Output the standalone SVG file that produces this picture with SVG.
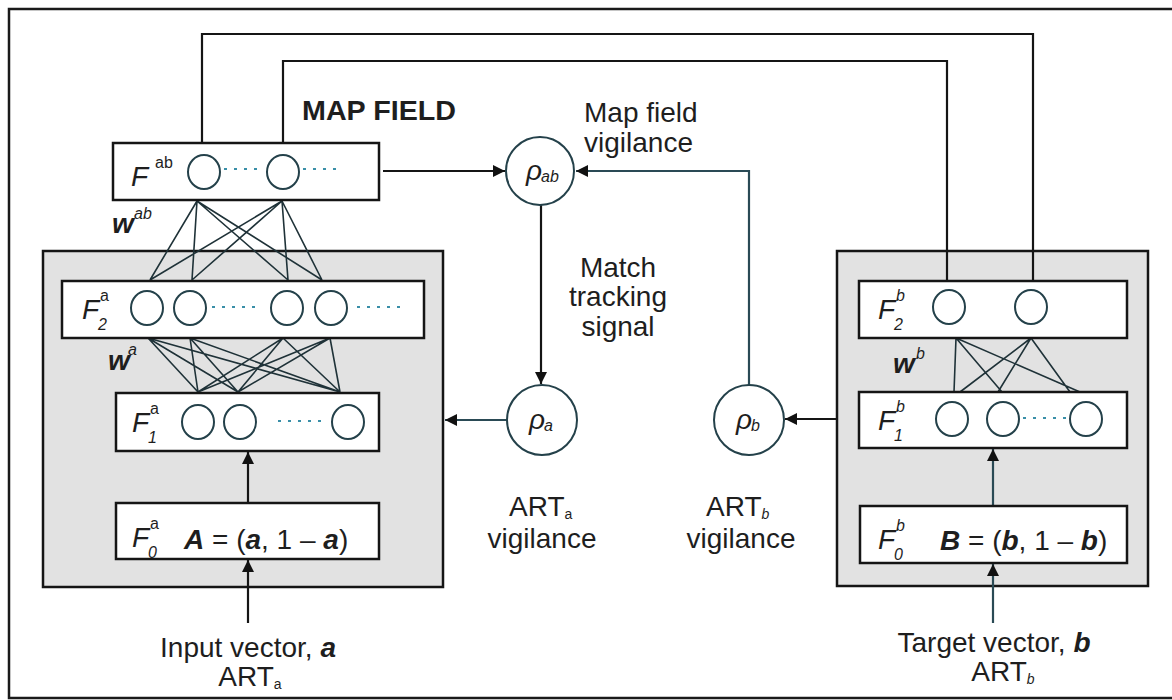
<svg xmlns="http://www.w3.org/2000/svg" width="1172" height="700" viewBox="0 0 1172 700">
<style>
.t{font-family:"Liberation Sans",Arial,sans-serif;font-size:28px;fill:#1e1e1e}
.i{font-style:italic}
.b{font-weight:bold}
.s{font-size:16px}
.ss{font-size:14px}
.box{fill:#fff;stroke:#151515;stroke-width:2.5}
.gray{fill:#e2e2e2;stroke:#151515;stroke-width:2.5}
.nd{fill:none;stroke:#24414a;stroke-width:2}
.dot{fill:none;stroke:#3a8fa8;stroke-width:2;stroke-dasharray:3 7}
.w{fill:none;stroke:#1f3238;stroke-width:1.6}
.c{fill:none;stroke:#151515;stroke-width:2.2}
.cv{fill:none;stroke:#2a4a55;stroke-width:2.2}
</style>
<defs>
<marker id="ah" viewBox="0 0 10 10" refX="10" refY="5" markerWidth="15" markerHeight="12" markerUnits="userSpaceOnUse" orient="auto">
<path d="M0,0 L10,5 L0,10 z" fill="#111"/>
</marker>
</defs>
<rect width="1172" height="700" fill="#fff"/>
<g id="frame"><path d="M1172 9 H9 V698 H1172" fill="none" stroke="#1a1a1a" stroke-width="2.5"/></g>

<g id="artA"><rect class="gray" x="43" y="251" width="400" height="336"/></g>
<g id="artB"><rect class="gray" x="837" y="251" width="311" height="335"/></g>

<g id="connectors">
<path class="c" d="M202 143 V34 H1033 V281"/>
<path class="c" d="M283 143 V61 H947 V281"/>
<path class="c" d="M383 171 H505" marker-end="url(#ah)"/>
<path class="cv" d="M749 386 V171 H576" marker-end="url(#ah)"/>
<path class="c" d="M541 205 V384" marker-end="url(#ah)"/>
<path class="cv" d="M507 420 H445" marker-end="url(#ah)"/>
<path class="c" d="M837 419 H785" marker-end="url(#ah)"/>
<path class="c" d="M248 503 V452" marker-end="url(#ah)"/>
<path class="c" d="M248 623 V560" marker-end="url(#ah)"/>
<path class="cv" d="M993 506 V449" marker-end="url(#ah)"/>
<path class="cv" d="M993 623 V564" marker-end="url(#ah)"/>
<g id="wab">
<path class="w" d="M197 201 L150 280 M197 201 L192 280 M197 201 L288 280 M197 201 L322 280 M282 201 L150 280 M282 201 L192 280 M282 201 L288 280 M282 201 L322 280"/>
</g>
<g id="wa">
<path class="w" d="M148 338 L198 392 M148 338 L238 392 M148 338 L340 392 M190 338 L198 392 M190 338 L238 392 M190 338 L340 392 M283 338 L198 392 M283 338 L238 392 M283 338 L340 392 M330 338 L198 392 M330 338 L238 392 M330 338 L340 392"/>
</g>
<g id="wb">
<path class="w" d="M956 338 L954 392 M956 338 L1002 392 M956 338 L1080 392 M1031 338 L960 392 M1031 338 L998 392 M1031 338 L1070 392"/>
</g>
</g>

<g id="Fab">
<rect class="box" x="113" y="143" width="266" height="57"/>
<ellipse class="nd" cx="204" cy="172" rx="16" ry="17"/>
<ellipse class="nd" cx="283" cy="172" rx="16" ry="17"/>
<path class="dot" d="M224 169 H264 M303 169 H343"/>
<text class="t i" x="131" y="186" font-size="30">F</text>
<text class="t s" x="155" y="168">ab</text>
</g>

<g id="F2a">
<rect class="box" x="62" y="281" width="362" height="57"/>
<ellipse class="nd" cx="147" cy="308" rx="16" ry="17"/>
<ellipse class="nd" cx="190" cy="308" rx="16" ry="17"/>
<ellipse class="nd" cx="287" cy="308" rx="16" ry="17"/>
<ellipse class="nd" cx="331" cy="308" rx="16" ry="17"/>
<path class="dot" d="M212 307 H262 M357 307 H402"/>
<text class="t i" x="82" y="319">F</text>
<text class="t i s" x="98" y="330">2</text>
<text class="t s" x="100" y="301">a</text>
</g>

<g id="F1a">
<rect class="box" x="116" y="393" width="263" height="58"/>
<ellipse class="nd" cx="198" cy="422" rx="16" ry="17"/>
<ellipse class="nd" cx="240" cy="422" rx="16" ry="17"/>
<ellipse class="nd" cx="348" cy="422" rx="16" ry="17"/>
<path class="dot" d="M278 421 H322"/>
<text class="t i" x="132" y="432">F</text>
<text class="t i s" x="148" y="443">1</text>
<text class="t s" x="150" y="414">a</text>
</g>

<g id="F0a">
<rect class="box" x="116" y="503" width="263" height="56"/>
<text class="t i" x="132" y="547">F</text>
<text class="t i s" x="148" y="558">0</text>
<text class="t s" x="150" y="529">a</text>
<text class="t" x="184" y="549"><tspan class="b i">A</tspan> = (<tspan class="b i">a</tspan>, 1 – <tspan class="b i">a</tspan>)</text>
</g>

<g id="F2b">
<rect class="box" x="859" y="281" width="268" height="57"/>
<ellipse class="nd" cx="949" cy="307" rx="16" ry="17"/>
<ellipse class="nd" cx="1031" cy="307" rx="16" ry="17"/>
<text class="t i" x="878" y="319">F</text>
<text class="t i s" x="894" y="330">2</text>
<text class="t i s" x="896" y="301">b</text>
</g>

<g id="F1b">
<rect class="box" x="859" y="392" width="268" height="56"/>
<ellipse class="nd" cx="952" cy="419" rx="16" ry="17"/>
<ellipse class="nd" cx="1003" cy="419" rx="16" ry="17"/>
<ellipse class="nd" cx="1086" cy="419" rx="16" ry="17"/>
<path class="dot" d="M1023 418 H1068"/>
<text class="t i" x="878" y="430">F</text>
<text class="t i s" x="894" y="441">1</text>
<text class="t i s" x="896" y="412">b</text>
</g>

<g id="F0b">
<rect class="box" x="860" y="506" width="267" height="57"/>
<text class="t i" x="878" y="549">F</text>
<text class="t i s" x="894" y="560">0</text>
<text class="t i s" x="896" y="531">b</text>
<text class="t" x="940" y="550"><tspan class="b i">B</tspan> = (<tspan class="b i">b</tspan>, 1 – <tspan class="b i">b</tspan>)</text>
</g>

<g id="rhoab">
<circle class="nd" cx="540" cy="171" r="34"/>
<text class="t i" x="526" y="180" font-size="26">ρ</text>
<text class="t i s" x="541" y="182">ab</text>
</g>
<g id="rhoa">
<circle class="nd" cx="542" cy="420" r="35"/>
<text class="t i" x="529" y="429" font-size="26">ρ</text>
<text class="t i s" x="544" y="431">a</text>
</g>
<g id="rhob">
<circle class="nd" cx="749" cy="420" r="35"/>
<text class="t i" x="736" y="429" font-size="26">ρ</text>
<text class="t i s" x="751" y="431">b</text>
</g>

<g id="labels">
<text class="t b" x="302" y="120" font-size="25" textLength="154" lengthAdjust="spacingAndGlyphs">MAP FIELD</text>
<text class="t" x="584" y="122">Map field</text>
<text class="t" x="584" y="152">vigilance</text>
<text class="t" x="618" y="277" text-anchor="middle">Match</text>
<text class="t" x="618" y="306" text-anchor="middle">tracking</text>
<text class="t" x="618" y="336" text-anchor="middle">signal</text>
<text class="t" x="509" y="516">ART<tspan class="ss" dy="3">a</tspan></text>
<text class="t" x="542" y="548" text-anchor="middle">vigilance</text>
<text class="t" x="706" y="516">ART<tspan class="ss i" dy="3">b</tspan></text>
<text class="t" x="741" y="548" text-anchor="middle">vigilance</text>
<text class="t i b" x="112" y="233" font-size="26">w</text>
<text class="t i s" x="134" y="219">ab</text>
<text class="t i b" x="108" y="370" font-size="26">w</text>
<text class="t i s" x="128" y="355">a</text>
<text class="t i b" x="893" y="373" font-size="26">w</text>
<text class="t i s" x="916" y="359">b</text>
<text class="t" x="248" y="657" text-anchor="middle">Input vector, <tspan class="b i">a</tspan></text>
<text class="t" x="250" y="686" text-anchor="middle">ART<tspan class="ss" dy="3">a</tspan></text>
<text class="t" x="994" y="652" text-anchor="middle">Target vector, <tspan class="b i">b</tspan></text>
<text class="t" x="1003" y="681" text-anchor="middle">ART<tspan class="ss i" dy="3">b</tspan></text>
</g>
</svg>
